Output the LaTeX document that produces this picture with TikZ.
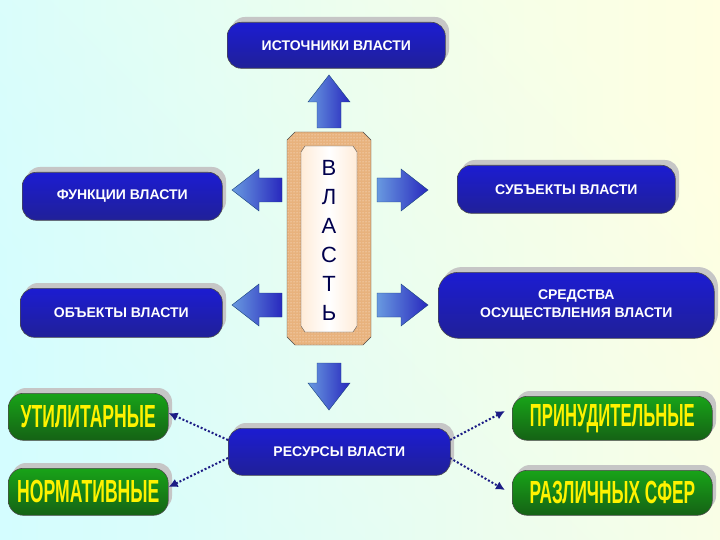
\documentclass[tikz,border=0pt]{standalone}
\usepackage{fontspec}
\setmainfont{Liberation Sans}
\usetikzlibrary{arrows.meta,patterns}
\definecolor{bluebox}{RGB}{40,40,190}
\definecolor{greenbox}{RGB}{30,140,30}
\definecolor{arrowblue}{RGB}{40,110,210}
\tikzset{
 bbox/.style={rounded corners=14pt,draw=black!70,line width=0.6pt,top color=bluebox!70!blue,bottom color=bluebox!80!black,text=white,font=\bfseries\fontsize{14}{18}\selectfont,align=center,inner sep=0pt},
 gbox/.style={rounded corners=15pt,draw=black!70,line width=0.6pt,top color=greenbox!80!green,bottom color=greenbox!70!black,text=yellow,font=\bfseries\fontsize{32}{34}\selectfont,inner sep=0pt},
 shad/.style={fill=gray!45,rounded corners=14pt},
 fat/.style={left color=arrowblue!70!white,right color=bluebox,draw=arrowblue!60!black,line width=0.4pt},
 dotarr/.style={draw=bluebox!70!black,line width=2pt,dotted,-{Latex[length=9pt,width=9pt]}}
}
\begin{document}
\begin{tikzpicture}[x=1pt,y=-1pt]
\useasboundingbox (0,0) rectangle (720,540);
\shade[top color=blue!12!cyan!15,bottom color=yellow!10,shading angle=135] (0,0) rectangle (720,540);
\shade[left color=cyan!18,right color=yellow!12,opacity=0.6] (0,0) rectangle (720,540);
\fill[shad] (231,17) rectangle (449,63);
\node[bbox,minimum width=218,minimum height=46,anchor=north west] (src) at (227,22) {ИСТОЧНИКИ ВЛАСТИ};
\fill[shad] (26,167) rectangle (226,215);
\node[bbox,minimum width=200,minimum height=48,anchor=north west] (fun) at (22,172) {ФУНКЦИИ ВЛАСТИ};
\fill[shad] (24,283) rectangle (226,332);
\node[bbox,minimum width=202,minimum height=49,anchor=north west] (obj) at (20,288) {ОБЪЕКТЫ ВЛАСТИ};
\fill[shad] (461,160) rectangle (679,208);
\node[bbox,minimum width=218,minimum height=48,anchor=north west] (sub) at (457,165) {СУБЪЕКТЫ ВЛАСТИ};
\fill[shad,rounded corners=20pt] (442,267) rectangle (718,333);
\node[bbox,rounded corners=20pt,minimum width=276,minimum height=66,anchor=north west] (sre) at (438,272) {СРЕДСТВА\\ОСУЩЕСТВЛЕНИЯ ВЛАСТИ};
\fill[shad] (232,423) rectangle (454,470);
\node[bbox,minimum width=222,minimum height=47,anchor=north west] (res) at (228,428) {РЕСУРСЫ ВЛАСТИ};
\fill[shad] (12,388) rectangle (172,435);
\node[gbox,minimum width=160,minimum height=47,anchor=north west] (utl) at (8,393) {\scalebox{0.55}[1]{УТИЛИТАРНЫЕ}};
\fill[shad] (12,463) rectangle (172,510);
\node[gbox,minimum width=160,minimum height=47,anchor=north west] (nrm) at (8,468) {\scalebox{0.55}[1]{НОРМАТИВНЫЕ}};
\fill[shad] (516,391) rectangle (716,435);
\node[gbox,minimum width=200,minimum height=44,anchor=north west] (pri) at (512,396) {\scalebox{0.52}[1]{ПРИНУДИТЕЛЬНЫЕ}};
\fill[shad] (516,465) rectangle (716,510);
\node[gbox,minimum width=200,minimum height=45,anchor=north west] (raz) at (512,470) {\scalebox{0.54}[1]{РАЗЛИЧНЫХ СФЕР}};
% central frame
\fill[orange!40!brown!60] (295,132)--(363,132)--(371,140)--(371,337)--(363,345)--(295,345)--(287,337)--(287,140)--cycle;
\fill[pattern=dots,pattern color=white!90!orange] (295,132)--(363,132)--(371,140)--(371,337)--(363,345)--(295,345)--(287,337)--(287,140)--cycle;
\draw[black!70] (295,132)--(363,132)--(371,140)--(371,337)--(363,345)--(295,345)--(287,337)--(287,140)--cycle;
\shade[left color=orange!15,right color=orange!15,middle color=white,draw=black!70] (301,152)--(305,146)--(353,146)--(357,152)--(357,326)--(353,332)--(305,332)--(301,326)--cycle;
\node[text=blue!30!black,font=\fontsize{22}{29}\selectfont,align=center] (vl) at (329,240) {В\\Л\\А\\С\\Т\\Ь};
\newcommand{\fatarrow}[4]{%
 \begin{scope}[shift={(#1,#2)},rotate=#3]
 \path[fat] (0,-12)--(#4-27,-12)--(#4-27,-21)--(#4,0)--(#4-27,21)--(#4-27,12)--(0,12)--cycle;
 \end{scope}}
\fatarrow{329}{128}{90}{53}
\fatarrow{329}{363}{-90}{47}
\fatarrow{282}{190}{180}{50}
\fatarrow{282}{305}{180}{50}
\fatarrow{377}{190}{0}{51}
\fatarrow{377}{305}{0}{51}
\coordinate (r1) at (228,440); \coordinate (r2) at (228,458);
\coordinate (r3) at (450,440); \coordinate (r4) at (450,458);
\draw[dotarr] (r1) -- (utl.east |- 0,413);
\draw[dotarr] (r2) -- (nrm.east |- 0,487);
\draw[dotarr] (r3) -- (505,411);
\draw[dotarr] (r4) -- (505,490);
\end{tikzpicture}
\end{document}
